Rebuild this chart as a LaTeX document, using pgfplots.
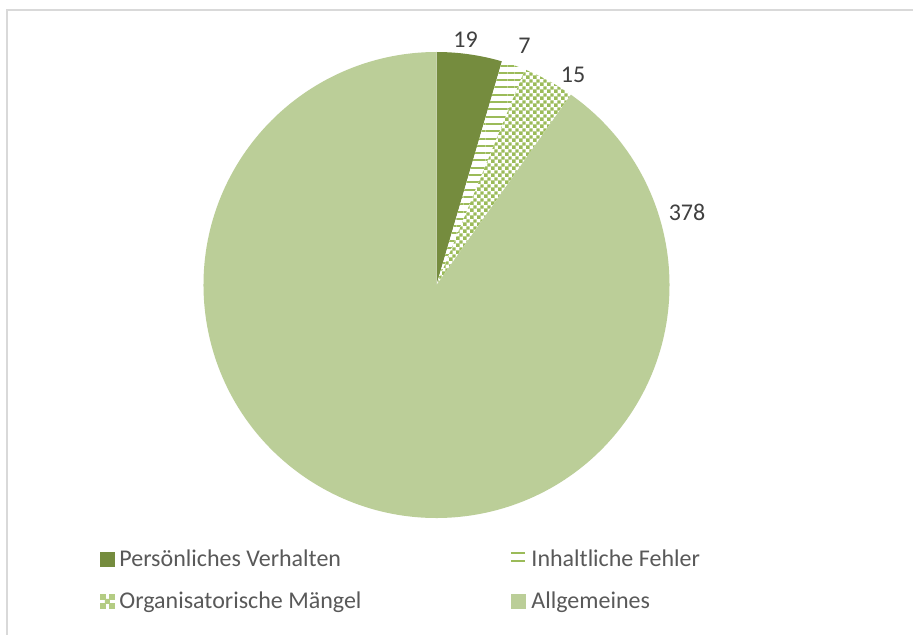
\documentclass[border=0pt]{standalone}
\usepackage{pgfplots}
\pgfplotsset{compat=1.18}
\usepackage{fontspec}
\setmainfont{Carlito}
\usetikzlibrary{patterns.meta}
\definecolor{dgreen}{RGB}{117,140,62}
\definecolor{lgreen}{RGB}{187,206,152}
\definecolor{pgreen}{RGB}{155,187,89}
\definecolor{lblgray}{RGB}{64,64,64}
\definecolor{leggray}{RGB}{89,89,89}
\definecolor{framegray}{RGB}{217,217,217}
\tikzdeclarepattern{name=mycheck, type=uncolored,
  bottom left={(0pt,0pt)}, top right={(6.8bp,6.8bp)}, tile size={(6.8bp,6.8bp)},
  code={\fill (0pt,0pt) rectangle (3.7bp,3.7bp); \fill (3.4bp,3.4bp) rectangle (6.8bp,6.8bp);}}
% data
\def\vA{19}\def\vB{7}\def\vC{15}\def\vD{378}
\pgfmathsetmacro\total{\vA+\vB+\vC+\vD}
\pgfmathsetmacro\aA{90}
\pgfmathsetmacro\aB{\aA-\vA/\total*360}
\pgfmathsetmacro\aC{\aB-\vB/\total*360}
\pgfmathsetmacro\aD{\aC-\vC/\total*360}
\pgfmathsetmacro\aE{\aD-\vD/\total*360}
\def\R{233bp}
\begin{document}
\begin{tikzpicture}
\fill[white] (0,0) rectangle (913bp,635bp);
\path[use as bounding box] (0,0) rectangle (913bp,635bp);
\begin{axis}[x=1bp, y=1bp, xmin=0, xmax=913, ymin=0, ymax=635,
  hide axis, anchor=origin, at={(0,0)}, clip=false,
  legend columns=2, legend cell align=left,
  legend style={at={(axis cs:100,85)}, anchor=north west, draw=none, fill=none,
    inner sep=0pt, outer sep=0pt, font=\fontsize{24bp}{28bp}\selectfont, text=leggray,
    nodes={inner sep=0pt}, row sep=24bp,
    /tikz/every odd column/.append style={column sep=5bp},
    /tikz/every even column/.append style={column sep=149bp}},
]
% frame
\draw[framegray, line width=2bp] (axis cs:7,0) -- (axis cs:7,625) -- (axis cs:913,625);
% pie
\fill[dgreen] (axis cs:436.5,350) -- ++(\aA:\R) arc[start angle=\aA, end angle=\aB, radius=\R] -- cycle;
\fill[white] (axis cs:436.5,350) -- ++(\aB:\R) arc[start angle=\aB, end angle=\aC, radius=\R] -- cycle;
\fill[pattern={Lines[angle=0,distance=7.3bp,line width=2bp]}, pattern color=pgreen] (axis cs:436.5,350) -- ++(\aB:\R) arc[start angle=\aB, end angle=\aC, radius=\R] -- cycle;
\fill[white] (axis cs:436.5,350) -- ++(\aC:\R) arc[start angle=\aC, end angle=\aD, radius=\R] -- cycle;
\fill[pattern=mycheck, pattern color=pgreen] (axis cs:436.5,350) -- ++(\aC:\R) arc[start angle=\aC, end angle=\aD, radius=\R] -- cycle;
\fill[lgreen] (axis cs:436.5,350) -- ++(\aD:\R) arc[start angle=\aD, end angle=\aE, radius=\R] -- cycle;
% labels
\begin{scope}[every node/.style={font=\fontsize{24bp}{28bp}\selectfont, text=lblgray, inner sep=0pt, anchor=center}]
\node at (axis cs:465.5,595) {\vA};
\node at (axis cs:524.5,589.5) {\vB};
\node at (axis cs:573,560.5) {\vC};
\node at (axis cs:687,422.5) {\vD};
\end{scope}
% legend
\addlegendimage{legend image code/.code={\fill[dgreen] (0bp,-7bp) rectangle (14bp,7bp);}}
\addlegendentry{Persönliches Verhalten}
\addlegendimage{legend image code/.code={\draw[pgreen, line width=2bp] (0bp,6.5bp) -- (14bp,6.5bp) (0bp,-1.8bp) -- (14bp,-1.8bp);}}
\addlegendentry{Inhaltliche Fehler}
\addlegendimage{legend image code/.code={\fill[white] (0bp,-7bp) rectangle (14bp,7bp);
  \fill[pgreen!75] (0bp,-7bp) rectangle ++(4.67bp,4.67bp) (9.33bp,-7bp) rectangle ++(4.67bp,4.67bp)
    (4.67bp,-2.33bp) rectangle ++(4.67bp,4.67bp) (0bp,2.33bp) rectangle ++(4.67bp,4.67bp)
    (9.33bp,2.33bp) rectangle ++(4.67bp,4.67bp);}}
\addlegendentry{Organisatorische Mängel}
\addlegendimage{legend image code/.code={\fill[lgreen] (0bp,-7bp) rectangle (14bp,7bp);}}
\addlegendentry{Allgemeines}
\end{axis}
\end{tikzpicture}
\end{document}
